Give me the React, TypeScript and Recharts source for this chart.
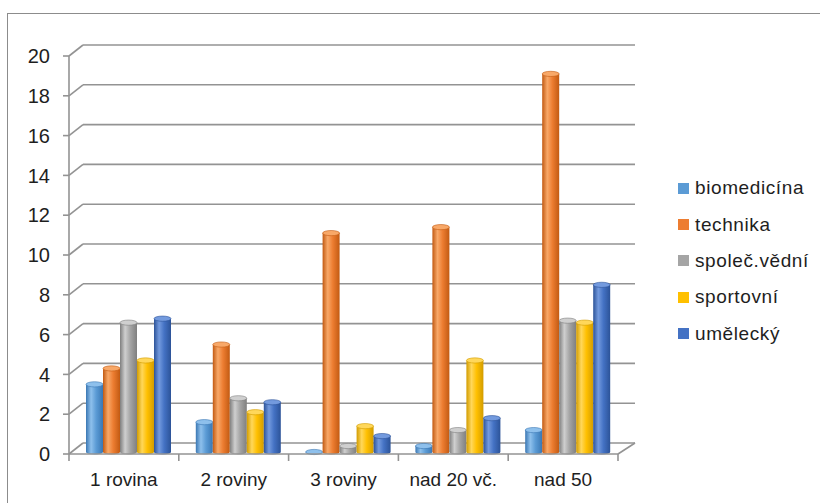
import { BarChart, Bar, XAxis, YAxis, CartesianGrid } from 'recharts';

const categories = ['1 rovina', '2 roviny', '3 roviny', 'nad 20 vč.', 'nad 50'];
const biomedicina = [3.4, 1.5, 0, 0.3, 1.1];
const technika = [4.2, 5.4, 11.0, 11.3, 19.0];
const spolecVedni = [6.5, 2.7, 0.3, 1.1, 6.6];
const sportovni = [4.6, 2.0, 1.3, 4.6, 6.5];
const umelecky = [6.7, 2.5, 0.8, 1.7, 8.4];
const yTicks = [0, 2, 4, 6, 8, 10, 12, 14, 16, 18, 20];

const series = [
  { key: 'biomedicina', name: 'biomedicína', values: biomedicina, base: '#5B9BD5', dark: '#3a77b3', light: '#8ec0ec' },
  { key: 'technika', name: 'technika', values: technika, base: '#ED7D31', dark: '#c25a12', light: '#f8a868' },
  { key: 'spolecVedni', name: 'společ.vědní', values: spolecVedni, base: '#A5A5A5', dark: '#7f7f7f', light: '#cfcfcf' },
  { key: 'sportovni', name: 'sportovní', values: sportovni, base: '#FFC000', dark: '#d29c00', light: '#ffd75a' },
  { key: 'umelecky', name: 'umělecký', values: umelecky, base: '#4472C4', dark: '#2c5398', light: '#739ade' },
];

const data = categories.map((name, i) => {
  const row: Record<string, string | number> = { name };
  series.forEach((s) => (row[s.key] = s.values[i]));
  return row;
});

const W = 820;
const H = 503;
const MARGIN = { top: 56, right: 202, bottom: 19, left: 0 };
const Y_AXIS_W = 69;
const X_AXIS_H = 30;
const PLOT_W = W - MARGIN.right - Y_AXIS_W;
const HALF_BAND = PLOT_W / categories.length / 2;

// depth offsets of the back wall
const DX_L = 14;
const DX_R = 17;
const DY = 11;
const GRID = '#939393';
const TEXT = '#1e1e1e';
const FONT = "'Liberation Sans', Arial, sans-serif";

const BackGridLine = (props: any) => {
  const { x1, x2, y1, y, height, index } = props;
  const isFloor = Math.abs(y1 - (y + height)) < 0.5;
  return (
    <g key={`grid-${index}`} stroke={GRID} strokeWidth={1.6} fill="none">
      <line x1={x1} y1={y1} x2={x1 + DX_L} y2={y1 - DY} />
      <line x1={x1 + DX_L} y1={y1 - DY} x2={x2 + DX_R} y2={y1 - DY} />
      {isFloor && <line x1={x2} y1={y1} x2={x2 + DX_R} y2={y1 - DY} />}
    </g>
  );
};

const CategoryTick = (props: any) => {
  const { x, y, payload, index } = props;
  return (
    <g>
      {index === 0 && (
        <line x1={x - HALF_BAND} y1={y} x2={x - HALF_BAND} y2={y + 7} stroke={GRID} strokeWidth={1.6} />
      )}
      <line x1={x + HALF_BAND} y1={y} x2={x + HALF_BAND} y2={y + 7} stroke={GRID} strokeWidth={1.6} />
      <text x={x} y={y + 32} textAnchor="middle" fontSize={19} fill={TEXT} fontFamily={FONT}>
        {payload.value}
      </text>
    </g>
  );
};

// cylinder sitting half way into the depth of the plot
const Cylinder = (props: any) => {
  const { x, y, width, height, gradId, s } = props;
  const left = x + 5;
  const right = left + width;
  const top = y - 2;
  const bottom = y + height - 2;
  const rx = width / 2;
  const ry = 2.6;
  return (
    <g>
      <path
        d={`M${left},${top} L${left},${bottom} A${rx},${ry} 0 0 0 ${right},${bottom} L${right},${top} Z`}
        fill={`url(#${gradId})`}
      />
      <ellipse cx={left + rx} cy={top} rx={rx} ry={ry} fill={s.light} stroke={s.dark} strokeWidth={0.6} />
    </g>
  );
};

export default function App() {
  return (
    <div style={{ position: 'absolute', left: 0, top: 0, width: W, height: H, overflow: 'hidden', background: '#fff' }}>
      <div
        style={{
          position: 'absolute',
          left: 7,
          top: 13,
          width: W,
          height: H,
          border: '1px solid #8c8c8c',
        }}
      />
      <div style={{ position: 'absolute', left: 0, top: 0 }}>
        <BarChart width={W} height={H} data={data} margin={MARGIN} barCategoryGap={12} barGap={0}>
          <defs>
            {series.map((s) => (
              <linearGradient key={s.key} id={`cyl-${s.key}`} x1="0" y1="0" x2="1" y2="0">
                <stop offset="0%" stopColor={s.dark} />
                <stop offset="30%" stopColor={s.light} />
                <stop offset="60%" stopColor={s.base} />
                <stop offset="100%" stopColor={s.dark} />
              </linearGradient>
            ))}
          </defs>
          <CartesianGrid vertical={false} horizontal={BackGridLine} />
          <XAxis
            dataKey="name"
            height={X_AXIS_H}
            axisLine={{ stroke: GRID, strokeWidth: 1.6 }}
            tickLine={false}
            tickSize={0}
            tickMargin={0}
            tick={CategoryTick}
            interval={0}
          />
          <YAxis
            width={Y_AXIS_W}
            domain={[0, 20]}
            ticks={yTicks}
            interval={0}
            axisLine={{ stroke: GRID, strokeWidth: 1.6 }}
            tickLine={{ stroke: GRID, strokeWidth: 1.6 }}
            tickSize={6}
            tickMargin={13}
            tick={{ fontSize: 20, fill: TEXT, fontFamily: FONT }}
          />
          {series.map((s) => (
            <Bar
              key={s.key}
              dataKey={s.key}
              name={s.name}
              fill={s.base}
              isAnimationActive={false}
              shape={(p: any) => <Cylinder {...p} gradId={`cyl-${s.key}`} s={s} />}
            />
          ))}
        </BarChart>
      </div>
      <div
        style={{
          position: 'absolute',
          left: 678,
          top: 170,
          fontFamily: FONT,
          fontSize: 19,
          letterSpacing: 0.6,
          color: TEXT,
        }}
      >
        {series.map((s) => (
          <div key={s.key} style={{ display: 'flex', alignItems: 'center', height: 36.4 }}>
            <span style={{ width: 11, height: 11, background: s.base, marginRight: 6 }} />
            <span>{s.name}</span>
          </div>
        ))}
      </div>
    </div>
  );
}
